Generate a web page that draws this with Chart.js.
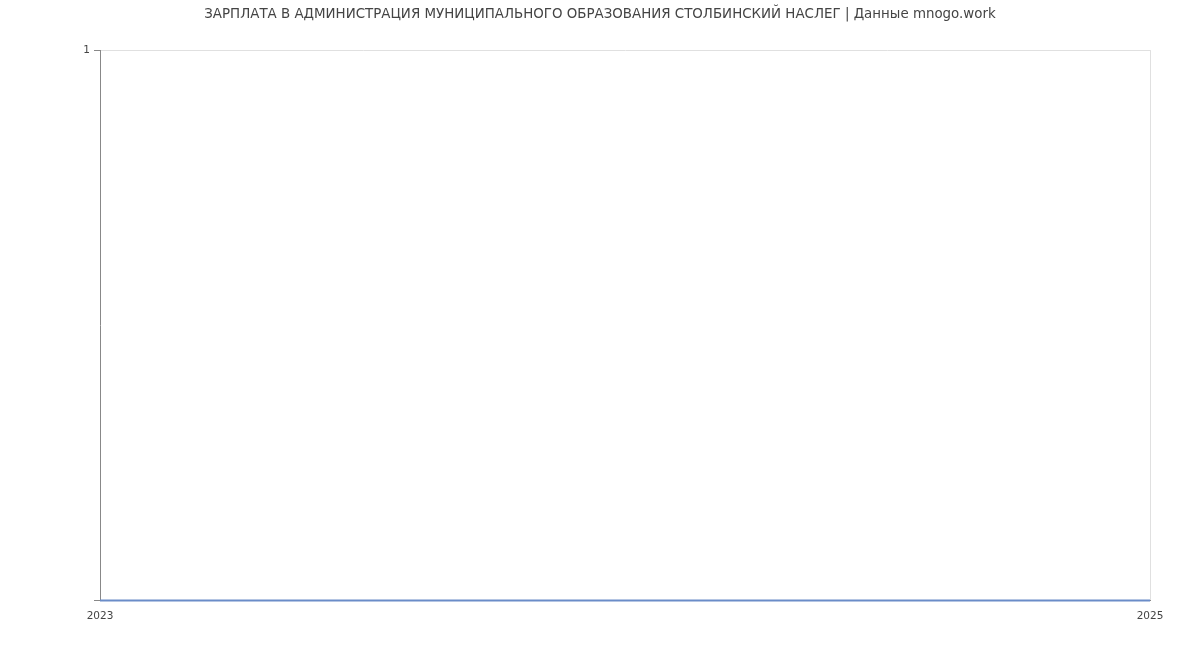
<!DOCTYPE html>
<html>
<head>
<meta charset="utf-8">
<script src="https://cdn.jsdelivr.net/npm/chart.js@4/dist/chart.umd.min.js"></script>
<style>
  html, body { margin: 0; padding: 0; background: #fff; }
  #wrap { width: 1200px; height: 650px; }
</style>
</head>
<body>
<div id="wrap"><canvas id="chart"></canvas></div>
<script>
const titleText = "ЗАРПЛАТА В АДМИНИСТРАЦИЯ МУНИЦИПАЛЬНОГО ОБРАЗОВАНИЯ СТОЛБИНСКИЙ НАСЛЕГ | Данные mnogo.work";
const years = ["2023", "2025"];
const salary = [0, 0];
const yTicks = [0, 1];

Chart.defaults.font.family = "'DejaVu Sans', sans-serif";
Chart.defaults.color = "#444";

const ctx = document.getElementById("chart").getContext("2d");
new Chart(ctx, {
  type: "line",
  data: {
    labels: years,
    datasets: [{
      data: salary,
      borderColor: "#6a8cc8",
      borderWidth: 2,
      pointRadius: 0,
      fill: false,
      tension: 0,
      clip: false
    }]
  },
  options: {
    responsive: true,
    maintainAspectRatio: false,
    animation: false,
    layout: { padding: { left: 0, right: 0, top: 0, bottom: 17 } },
    plugins: {
      legend: { display: false },
      tooltip: { enabled: false },
      title: {
        display: true,
        text: titleText,
        color: "#444",
        font: { size: 13.4, weight: "normal" },
        padding: { top: 6, bottom: 28 }
      }
    },
    scales: {
      x: {
        offset: false,
        border: { color: "#888", width: 1 },
        grid: {
          drawTicks: false,
          color: (c) => c.index === years.length - 1 ? "#e0e0e0" : "rgba(0,0,0,0)"
        },
        ticks: { font: { size: 10.5 }, color: "#444", padding: 10, maxRotation: 0 }
      },
      y: {
        min: yTicks[0],
        max: yTicks[yTicks.length - 1],
        afterFit: (s) => { s.width = 100; },
        border: { color: "#888", width: 1 },
        grid: {
          color: (c) => c.tick && c.tick.value === 0 ? "rgba(0,0,0,0)" : "#e0e0e0",
          tickColor: "#888",
          tickLength: 6
        },
        ticks: {
          stepSize: 1,
          font: { size: 10.5 },
          color: "#444",
          padding: 4,
          callback: (v) => v === 0 ? "" : String(v)
        }
      },
      yRight: {
        position: "right",
        min: yTicks[0],
        max: yTicks[yTicks.length - 1],
        afterFit: (s) => { s.width = 50; },
        border: { display: false },
        grid: { display: false },
        ticks: { display: false }
      }
    }
  }
});
</script>
</body>
</html>
